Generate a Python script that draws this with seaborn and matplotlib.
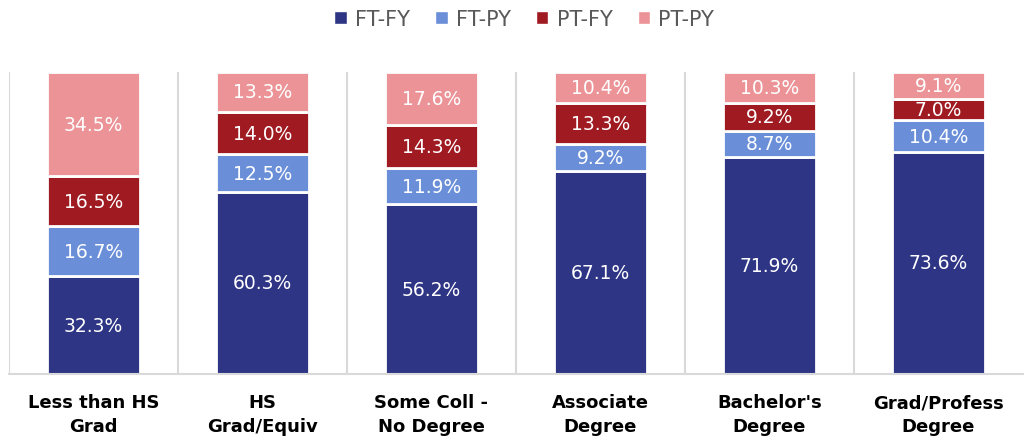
import numpy as np
import pandas as pd
import matplotlib
matplotlib.use("Agg")
import matplotlib.pyplot as plt
from matplotlib.patches import Patch
import seaborn as sns

# Data
categories = ["Less than HS\nGrad", "HS\nGrad/Equiv", "Some Coll -\nNo Degree",
              "Associate\nDegree", "Bachelor's\nDegree", "Grad/Profess\nDegree"]
series = ["FT-FY", "FT-PY", "PT-FY", "PT-PY"]
ft_fy = [32.3, 60.3, 56.2, 67.1, 71.9, 73.6]
ft_py = [16.7, 12.5, 11.9, 9.2, 8.7, 10.4]
pt_fy = [16.5, 14.0, 14.3, 13.3, 9.2, 7.0]
pt_py = [34.5, 13.3, 17.6, 10.4, 10.3, 9.1]
colors = ["#2e3585", "#6a8fd8", "#a01a22", "#eb9396"]

df = pd.DataFrame({"category": categories, "FT-FY": ft_fy, "FT-PY": ft_py,
                   "PT-FY": pt_fy, "PT-PY": pt_py})

sns.set_theme(style="white")
plt.rcParams["font.family"] = ["DejaVu Sans"]

fig = plt.figure(figsize=(10.28, 4.39), dpi=100)
ax = fig.add_axes([9 / 1028, 64 / 439, 1014 / 1028, 302 / 439])

# stacked bars, one seaborn call per layer
bottom = np.zeros(len(categories))
for s, c in zip(series, colors):
    sns.barplot(data=df, x="category", y=s, color=c, saturation=1, width=0.545,
                errorbar=None, bottom=bottom, edgecolor="white", linewidth=2, ax=ax)
    bottom = bottom + df[s].to_numpy()

for cont, s in zip(ax.containers, series):
    ax.bar_label(cont, labels=[f"{v:.1f}%" for v in df[s]], label_type="center",
                 color="white", fontsize=13.5)

# category separators
ax.vlines(np.arange(len(categories)) - 0.5, 0, 100, color="#d9d9d9", lw=1.5, zorder=0)

ax.set_xlim(-0.5, len(categories) - 0.5)
ax.set_ylim(0, 100)
ax.set_xlabel("")
ax.set_ylabel("")
ax.set_yticks([])
ax.tick_params(axis="x", length=0, pad=14)
for lbl in ax.get_xticklabels():
    lbl.set_fontweight("bold")
    lbl.set_fontsize(13)
    lbl.set_color("black")
    lbl.set_linespacing(1.4)
for side in ["top", "left", "right"]:
    ax.spines[side].set_visible(False)
ax.spines["bottom"].set_color("#d9d9d9")
ax.spines["bottom"].set_linewidth(1.5)

handles = [Patch(facecolor=c, label=s) for s, c in zip(series, colors)]
fig.legend(handles=handles, loc="upper center", bbox_to_anchor=(0.51, 1.02), ncol=4,
           frameon=False, fontsize=15, labelcolor="#595959", handlelength=0.6,
           handleheight=0.6, handletextpad=0.4, columnspacing=1.2)

fig.savefig("out.png", dpi=100)
